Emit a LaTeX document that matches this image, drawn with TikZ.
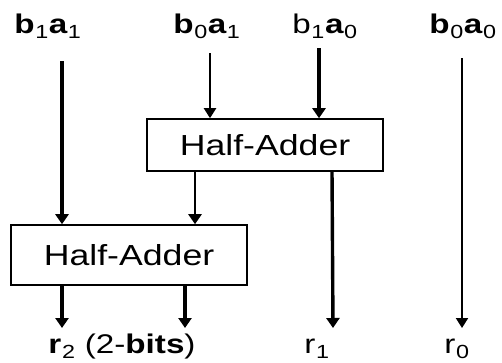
\documentclass[tikz,border=0pt]{standalone}
\usepackage{fontspec}
\usepackage{graphicx}
\setmainfont{Liberation Sans}
\usetikzlibrary{arrows.meta}

% wide lettering and subscripts
\newcommand{\wide}[1]{\scalebox{1.23}[1]{#1}}
\newcommand{\subs}[1]{\raisebox{-0.22em}{\mdseries\fontsize{19}{19}\selectfont\hspace{0.5pt}#1\hspace{0.5pt}}}

\begin{document}
\begin{tikzpicture}[x=1pt,y=-1pt,
  lbl/.style={inner sep=0pt,anchor=base,font=\fontsize{27}{30}\selectfont},
  hbox/.style={draw,line width=1.6pt,inner sep=0pt,minimum width=236pt,
               font=\fontsize{29}{32}\selectfont},
  heavy/.style={line width=3.4pt,-{Triangle[width=13pt,length=10pt]}},
  light/.style={line width=2.1pt,-{Triangle[width=12pt,length=10pt]}},
  mid/.style={line width=2.6pt,-{Triangle[width=13pt,length=10pt]}}]
\useasboundingbox (0,0) rectangle (502,362);

% operand labels
\node[lbl] (b1a1) at (48,33) {\wide{\textbf{b\subs{1}a\subs{1}}}};
\node[lbl] (b0a1) at (207,33) {\wide{\textbf{b\subs{0}a\subs{1}}}};
\node[lbl] (b1a0) at (325,33) {\wide{b\subs{1}\textbf{a\subs{0}}}};
\node[lbl] (b0a0) at (463,33) {\wide{\textbf{b\subs{0}a\subs{0}}}};

% half adders
\node[hbox,minimum height=52pt] (ha1) at (265,145) {\wide{Half-Adder}};
\node[hbox,minimum height=60pt] (ha2) at (129,255) {\wide{Half-Adder}};

% result labels
\node[lbl] (r2) at (122,353) {\wide{\textbf{r\subs{2}} (2-\textbf{bits})}};
\node[lbl] (r1) at (317,353) {\wide{r\subs{1}}};
\node[lbl] (r0) at (457,353) {\wide{r\subs{0}}};

% wire start points and end points
\coordinate (s1) at (62,61);
\coordinate (s2) at (210,53);
\coordinate (s3) at (319,48);
\coordinate (s4) at (462,58);
\coordinate (c1) at (195,171);
\coordinate (c2) at (332,171);
\coordinate (d1) at (62,285);
\coordinate (d2) at (185,285);
\coordinate (e1) at (62,328);
\coordinate (e2) at (185,328);
\coordinate (e3) at (333,328);
\coordinate (e4) at (462,328);

% inputs
\draw[heavy] (s1) -- (s1 |- ha2.north);
\draw[light] (s2) -- (s2 |- ha1.north);
\draw[heavy] (s3) -- (s3 |- ha1.north);
\draw[light] (s4) -- (e4);

% first half adder outputs
\draw[mid] (c1) -- (c1 |- ha2.north);
\draw[heavy] (c2) -- (e3);

% second half adder outputs
\draw[heavy] (d1) -- (e1);
\draw[heavy] (d2) -- (e2);
\end{tikzpicture}
\end{document}
